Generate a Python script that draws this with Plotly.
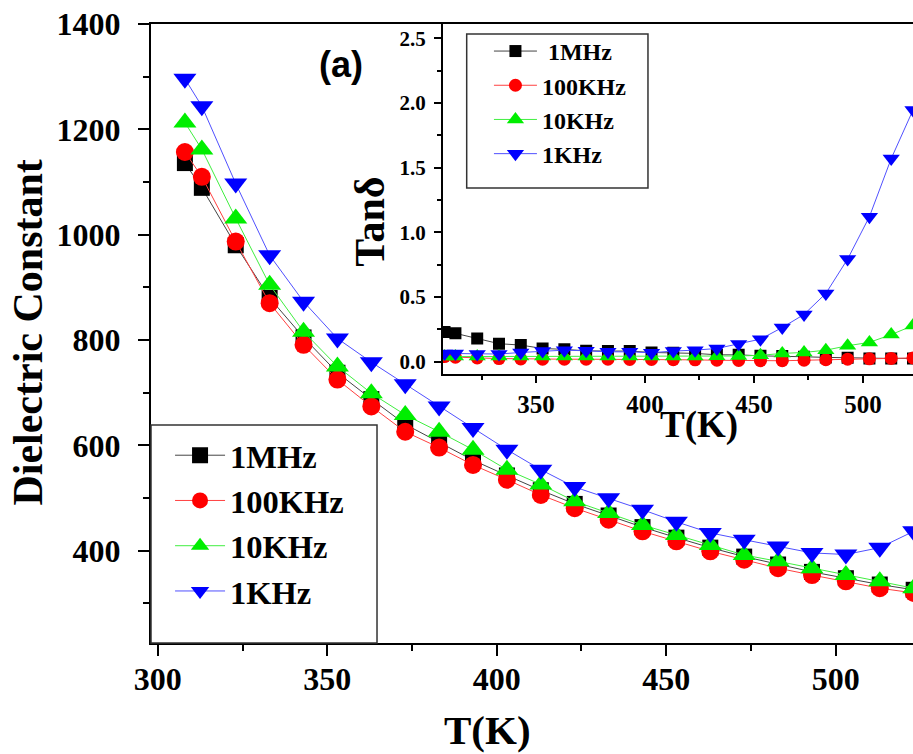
import plotly.graph_objects as go

# ---------------- data ----------------
T = [308, 313, 323, 333, 343, 353, 363, 373, 383, 393, 403, 413,
     423, 433, 443, 453, 463, 473, 483, 493, 503, 513, 523]

series_names = ["1MHz", "100KHz", "10KHz", "1KHz"]
inset_names = ["\u00a01MHz", "100KHz", "10KHz", "1KHz"]

eps_1MHz = [1136, 1089, 980, 880, 805, 738, 688, 640, 606, 572, 543, 515,
            489, 467, 445, 425, 406, 389, 374, 360, 348, 336, 326]
eps_100KHz = [1157, 1110, 987, 870, 791, 725, 674, 626, 596, 563, 535, 506,
              481, 459, 437, 418, 399, 383, 367, 354, 342, 329, 320]
eps_10KHz = [1213, 1162, 1031, 905, 816, 750, 699, 658, 626, 592, 554, 526,
             494, 472, 449, 430, 411, 392, 380, 367, 354, 342, 329]
eps_1KHz = [1296, 1244, 1097, 961, 873, 803, 758, 716, 674, 633, 592, 554,
            521, 500, 478, 455, 434, 421, 408, 396, 393, 406, 437]

tan_1MHz = [0.23, 0.22, 0.18, 0.14, 0.129, 0.103, 0.096, 0.085, 0.083, 0.083, 0.072, 0.070,
            0.065, 0.054, 0.054, 0.046, 0.044, 0.039, 0.034, 0.031, 0.026, 0.026, 0.026]
tan_100KHz = [0.04, 0.035, 0.03, 0.025, 0.022, 0.02, 0.02, 0.02, 0.02, 0.018, 0.018, 0.016,
              0.015, 0.012, 0.01, 0.008, 0.008, 0.012, 0.016, 0.02, 0.023, 0.026, 0.03]
tan_10KHz = [0.04, 0.04, 0.04, 0.04, 0.04, 0.04, 0.04, 0.04, 0.04, 0.04, 0.04, 0.04,
             0.04, 0.042, 0.045, 0.05, 0.065, 0.072, 0.09, 0.124, 0.15, 0.21, 0.28]
tan_1KHz = [0.065, 0.065, 0.06, 0.06, 0.072, 0.083, 0.09, 0.085, 0.077, 0.077, 0.07, 0.083,
            0.09, 0.103, 0.137, 0.175, 0.265, 0.366, 0.528, 0.794, 1.121, 1.57, 1.945]

eps_series = [eps_1MHz, eps_100KHz, eps_10KHz, eps_1KHz]
tan_series = [tan_1MHz, tan_100KHz, tan_10KHz, tan_1KHz]

# ---------------- styles ----------------
marker_colors = ["#000000", "#ff0000", "#00ee00", "#0000ff"]
line_colors = ["#444444", "#ff4040", "#40ee40", "#5050ff"]
symbols = ["square", "circle", "triangle-up", "triangle-down"]
main_sizes = [16, 18, 20, 20]
inset_sizes = [12, 13, 15, 15]

SERIF = "Liberation Serif, Times New Roman, serif"

fig = go.Figure()

for name, ys, mc, lc, sym, sz in zip(series_names, eps_series, marker_colors,
                                     line_colors, symbols, main_sizes):
    fig.add_trace(go.Scatter(
        x=T, y=ys, name=name, mode="lines+markers",
        line=dict(color=lc, width=1),
        marker=dict(symbol=sym, size=sz, color=mc, line=dict(width=0)),
        xaxis="x", yaxis="y", legend="legend"))

for name, ys, mc, lc, sym, sz in zip(inset_names, tan_series, marker_colors,
                                     line_colors, symbols, inset_sizes):
    fig.add_trace(go.Scatter(
        x=T, y=ys, name=name, mode="lines+markers",
        line=dict(color=lc, width=1),
        marker=dict(symbol=sym, size=sz, color=mc, line=dict(width=0)),
        xaxis="x2", yaxis="y2", legend="legend2"))

axis_common = dict(showline=True, linecolor="black", showgrid=False, zeroline=False,
                   ticks="outside", tickcolor="black")

fig.update_layout(
    width=913, height=754,
    margin=dict(l=151, r=0, t=24, b=111),
    paper_bgcolor="white", plot_bgcolor="white",
    xaxis=dict(domain=[0, 1], range=[298, 522.8], linewidth=2, mirror=True,
               ticklen=11, tickwidth=2, tick0=300, dtick=50, ticklabelstandoff=-4,
               minor=dict(ticks="outside", ticklen=6, tickwidth=2, tick0=300, dtick=25,
                          tickcolor="black"),
               tickfont=dict(family=SERIF, size=32, color="black", weight="bold"),
               **axis_common),
    yaxis=dict(domain=[0, 1], range=[225, 1400], linewidth=2,
               ticklen=11, tickwidth=2, tick0=0, dtick=200, ticklabelstandoff=11,
               minor=dict(ticks="outside", ticklen=6, tickwidth=2, tick0=0, dtick=100,
                          tickcolor="black"),
               tickfont=dict(family=SERIF, size=32, color="black", weight="bold"),
               **axis_common),
    xaxis2=dict(domain=[0.3832, 1], anchor="y2", range=[307.3, 523.0], linewidth=2,
                ticklen=7, tickwidth=1.5, tick0=300, dtick=50,
                minor=dict(ticks="outside", ticklen=4, tickwidth=1.5, tick0=300, dtick=25,
                           tickcolor="black"),
                tickfont=dict(family=SERIF, size=25, color="black", weight="bold"),
                **axis_common),
    yaxis2=dict(domain=[0.434, 1], anchor="x2", range=[-0.097, 2.61], linewidth=2,
                ticklen=7, tickwidth=1.5, tick0=0, dtick=0.5, tickformat=".1f",
                ticklabelstandoff=4,
                minor=dict(ticks="outside", ticklen=4, tickwidth=1.5, tick0=0, dtick=0.25,
                           tickcolor="black"),
                tickfont=dict(family=SERIF, size=21, color="black", weight="bold"),
                **axis_common),
    legend=dict(x=0.025, y=0.348, xanchor="left", yanchor="top",
                bgcolor="rgba(0,0,0,0)", borderwidth=0, itemwidth=50,
                font=dict(family=SERIF, size=32.5, color="black", weight="bold")),
    legend2=dict(x=0.4435, y=0.992, xanchor="left", yanchor="top",
                 bgcolor="rgba(0,0,0,0)", borderwidth=0, itemwidth=43,
                 font=dict(family=SERIF, size=24, color="black", weight="bold")),
    showlegend=True,
)

# legend frames
fig.add_shape(type="rect", xref="paper", yref="paper", x0=0, x1=0.2966, y0=0, y1=0.352,
              line=dict(color="#333333", width=1.5), fillcolor="rgba(0,0,0,0)")
fig.add_shape(type="rect", xref="paper", yref="paper", x0=0.4143, x1=0.6522,
              y0=0.735, y1=0.9838,
              line=dict(color="#333333", width=1.5), fillcolor="rgba(0,0,0,0)")

# texts
fig.add_annotation(text="(a)", xref="paper", yref="paper", x=0.249, y=0.935,
                   showarrow=False, xanchor="center", yanchor="middle",
                   font=dict(family="Liberation Sans, Arial, sans-serif", size=36,
                             color="black", weight="bold"))
fig.add_annotation(text="Dielectric Constant", xref="paper", yref="paper",
                   x=-0.161, y=0.502, textangle=-90, showarrow=False,
                   xanchor="center", yanchor="middle",
                   font=dict(family=SERIF, size=42, color="black", weight="bold"))
fig.add_annotation(text="T(K)", xref="paper", yref="paper", x=0.442, y=-0.1405,
                   showarrow=False, xanchor="center", yanchor="middle",
                   font=dict(family=SERIF, size=41, color="black", weight="bold"))
fig.add_annotation(text="Tanδ", xref="paper", yref="paper", x=0.287, y=0.680,
                   textangle=-90, showarrow=False, xanchor="center", yanchor="middle",
                   font=dict(family=SERIF, size=42, color="black", weight="bold"))
fig.add_annotation(text="T(K)", xref="paper", yref="paper", x=0.719, y=0.352,
                   showarrow=False, xanchor="center", yanchor="middle",
                   font=dict(family=SERIF, size=37, color="black", weight="bold"))

fig.write_html("out.html")
